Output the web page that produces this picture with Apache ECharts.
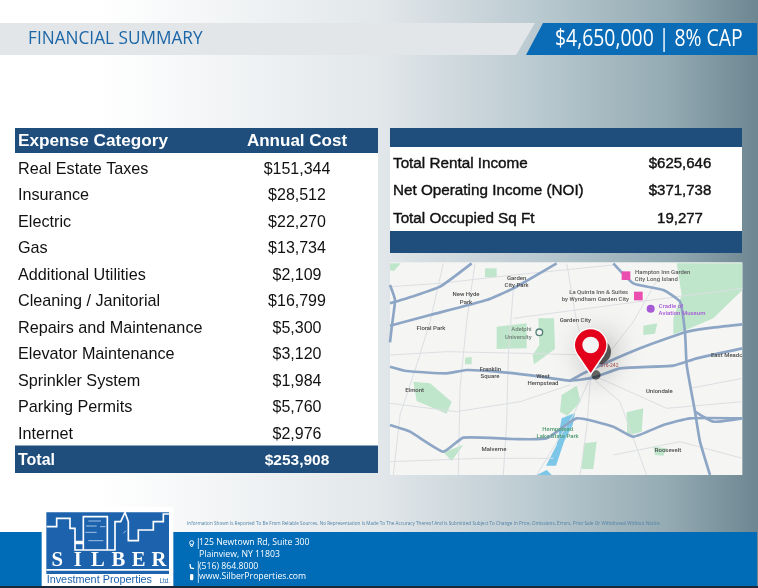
<!DOCTYPE html>
<html>
<head>
<meta charset="utf-8">
<title>Financial Summary</title>
<style>
html,body{margin:0;padding:0;background:#fff;}
#main{width:758px;height:588px;}
</style>
<script src="https://cdn.jsdelivr.net/npm/echarts@6/dist/echarts.min.js"></script>
</head>
<body>
<div id="main"></div>
<script>
// table data
var expenseHeader = 'Expense Category';
var costHeader = 'Annual Cost';
var expenseNames = ['Real Estate Taxes','Insurance','Electric','Gas','Additional Utilities','Cleaning / Janitorial','Repairs and Maintenance','Elevator Maintenance','Sprinkler System','Parking Permits','Internet','Total'];
var expenseCosts = [151344,28512,22270,13734,2109,16799,5300,3120,1984,5760,2976,253908];
var incomeNames = ['Total Rental Income','Net Operating Income (NOI)','Total Occupied Sq Ft'];
var incomeValues = ['$625,646','$371,738','19,277'];

var titleText = 'FINANCIAL SUMMARY';
var priceText = '$4,650,000 | 8% CAP';
var disclaimer = 'Information Shown Is Reported To Be From Reliable Sources. No Representation Is Made To The Accuracy Thereof And Is Submitted Subject To Change In Price, Omissions, Errors, Prior Sale Or Withdrawal Without Notice.';
var contactLines = ['125 Newtown Rd, Suite 300','Plainview, NY 11803','(516) 864.8000','www.SilberProperties.com'];

// map drawing, in 3x units
var mapParks = [
  [[350,215],[440,205],[440,280],[350,282]],
  [[475,190],[522,190],[525,282],[462,328],[458,300],[478,270]],
  [[890,25],[1087,25],[1087,105],[1000,190],[925,222],[880,238],[880,190],[905,120]],
  [[100,380],[150,385],[215,440],[200,476],[110,438]],
  [[545,420],[590,392],[602,440],[562,482],[540,470]],
  [[740,472],[790,460],[785,530],[742,542]],
  [[612,565],[650,560],[640,642],[604,642]],
  [[190,592],[250,570],[215,618]],
  [[315,40],[350,40],[350,66],[315,66]],
  [[790,212],[832,205],[825,236],[790,240]],
  [[255,308],[275,306],[275,328],[255,328]],
  [[30,25],[62,25],[42,48],[30,46]],
  [[820,575],[860,580],[850,602],[825,600]]
];
var mapWater = [
  [[498,632],[530,570],[545,490],[585,474],[578,510],[552,560],[528,632]],
  [[470,660],[500,645],[515,660]]
];
var mapMinorRoads = [
  [[30,95],[180,85],[400,60],[700,30]],
  [[30,300],[200,290],[430,295],[620,300]],
  [[190,25],[150,200],[110,330],[60,480],[40,660]],
  [[285,25],[260,200],[240,400],[235,660]],
  [[400,100],[385,300],[380,500],[370,660]],
  [[560,25],[590,200],[632,355]],
  [[400,190],[700,150],[1087,100]],
  [[632,365],[580,480],[470,660]],
  [[632,365],[620,520],[600,660]],
  [[632,365],[720,440],[800,660]],
  [[660,370],[860,460],[1087,440]],
  [[632,365],[760,200],[840,60]],
  [[30,445],[230,470],[420,440],[570,390]],
  [[700,600],[900,560],[1087,610]],
  [[30,620],[300,610],[520,610]],
  [[930,400],[1087,370]]
];
var mapMajorRoads = [
  [[30,145],[95,125],[180,95],[275,25]],
  [[30,212],[150,180],[320,135],[400,100],[530,25]],
  [[30,90],[45,135],[36,210],[30,262]],
  [[30,335],[80,348],[200,355],[260,345],[350,350],[460,362],[570,377],[640,368],[720,340],[880,332],[950,310],[1087,280]],
  [[570,377],[620,350],[780,280],[915,232],[980,220],[1087,208]],
  [[700,25],[760,85],[850,105],[900,140],[915,232],[920,330],[945,470],[960,560],[990,660]],
  [[30,510],[90,530],[190,590],[250,548],[400,552],[500,550],[590,490],[700,515],[760,545],[850,510],[930,490],[1087,490]],
  [[945,470],[1000,500],[1087,490]]
];
var mapLabels = [
  ['Garden',410,70,'#4a4a4a'],['City Park',410,91,'#4a4a4a'],['New Hyde',258,119,'#4a4a4a'],['Park',258,141,'#4a4a4a'],
  ['Floral Park',153,221,'#4a4a4a'],['Garden City',586,197,'#4a4a4a'],['Adelphi',424,224,'#6f7f78'],['University',415,247,'#6f7f78'],
  ['Franklin',331,343,'#4a4a4a'],['Square',330,365,'#4a4a4a'],['West',489,364,'#4a4a4a'],['Hempstead',489,386,'#4a4a4a'],
  ['Elmont',104,405,'#4a4a4a'],['Uniondale',838,408,'#4a4a4a'],['East Meadc',1040,300,'#4a4a4a'],['Malverne',342,583,'#4a4a4a'],
  ['Roosevelt',864,586,'#4a4a4a'],['Hempstead',533,523,'#4f9b72'],['Lake State Park',533,544,'#4f9b72'],
  ['Hampton Inn Garden',848,51,'#5a5a5a'],['City Long Island',829,73,'#5a5a5a'],['La Quinta Inn & Suites',656,111,'#5a5a5a'],
  ['by Wyndham Garden City',646,134,'#5a5a5a'],['Cradle of',873,154,'#a65ad6'],['Aviation Museum',906,175,'#a65ad6']
];
var skyline = [[140,80],[170,80],[170,55],[210,55],[210,85],[225,85],[225,125],[250,125],[250,50],[322,50],[322,150],[250,150],[250,130],[225,130],[225,150],[345,150],[345,65],[362,65],[375,37],[385,65],[385,122],[415,122],[415,90],[460,90],[460,65],[490,65],[490,42],[507,42]];
var skylineMarks = [[[265,63],[303,63]],[[258,78],[290,78]],[[300,80],[316,80]],[[256,97],[290,97]],[[265,122],[310,122]],[[370,100],[378,92]]];
var silberLetters = ['S','I','L','B','E','R'];

function rect(x,y,w,h,fill){
  return {type:'rect',shape:{x:x,y:y,width:w,height:h},style:{fill:fill},silent:true};
}
function label(x,y,text,size,color,extra){
  var o = {type:'text',x:x,y:y,silent:true,style:{text:text,fontFamily:'"Open Sans"',fontSize:size,fill:color,textAlign:'left',textVerticalAlign:'middle'}};
  for(var k in extra){
    if(k=='scaleX'){o.scaleX=extra[k];}
    else o.style[k]=extra[k];
  }
  return o;
}

// page background and bands
var pageGraphics = [
  {type:'rect',shape:{x:0,y:0,width:758,height:588},silent:true,style:{fill:new echarts.graphic.LinearGradient(0,0,1,0,[
    {offset:0,color:'#ffffff'},{offset:0.13,color:'#ffffff'},{offset:0.5,color:'#e2e7ea'},{offset:0.7,color:'#bccbd2'},{offset:0.88,color:'#94abb3'},{offset:1,color:'#6d8691'}])}},
  {type:'polygon',shape:{points:[[0,23],[535,23],[516,55],[0,55]]},style:{fill:'#e3e6e8'},silent:true},
  {type:'polygon',shape:{points:[[543,23],[757,23],[757,55],[526,55]]},style:{fill:'#0a6bb6'},silent:true},
  label(28,39,titleText,19,'#1c66a8',{scaleX:0.906}),
  label(555,39,priceText,23,'#ffffff',{scaleX:0.843}),
  // left table
  rect(15,128,363,345,'#ffffff'),
  rect(15,128,363,25,'#1f4e7d'),
  rect(15,445.5,363,27.5,'#1f4e7d'),
  // right table
  rect(390,128,352,125,'#ffffff'),
  rect(390,128,352,19,'#1f4e7d'),
  rect(390,231,352,22,'#1f4e7d'),
  // footer
  rect(0,532,757,54,'#006bb7'),
  rect(0,586,758,2,'#1b2a3a'),
  label(187,524,disclaimer,5.2,'#4f81a6',{scaleX:0.896})
];

// map
var mapChildren = [{type:'rect',shape:{x:30,y:22,width:1057,height:638},style:{fill:'#f5f5f3'},silent:true}];
mapParks.forEach(function(p){
  mapChildren.push({type:'polygon',shape:{points:p},style:{fill:'#bfe6cb'},silent:true});
});
mapWater.forEach(function(p){
  mapChildren.push({type:'polygon',shape:{points:p},style:{fill:'#7cc7e8'},silent:true});
});
mapMinorRoads.forEach(function(p){
  mapChildren.push({type:'polyline',shape:{points:p},style:{fill:null,stroke:'#dcdfe3',lineWidth:3},silent:true});
});
mapMajorRoads.forEach(function(p){
  mapChildren.push({type:'polyline',shape:{points:p,smooth:0.15},style:{fill:null,stroke:'#8ea6c6',lineWidth:8,lineJoin:'round'},silent:true});
});
mapLabels.forEach(function(l){
  mapChildren.push({type:'text',x:l[1],y:l[2],silent:true,style:{text:l[0],fontFamily:'Roboto',fontWeight:500,fontSize:18,fill:l[3],textAlign:'center',textVerticalAlign:'middle'}});
});
mapChildren.push(
  {type:'rect',shape:{x:725,y:49,width:26,height:26},style:{fill:'#ea4fb0'},silent:true},
  {type:'rect',shape:{x:762,y:110,width:26,height:26},style:{fill:'#ea4fb0'},silent:true},
  {type:'circle',shape:{cx:812,cy:161,r:12},style:{fill:'#a65ad6'},silent:true},
  {type:'circle',shape:{cx:478,cy:232,r:10},style:{fill:'#f5f5f3',stroke:'#55807a',lineWidth:4},silent:true},
  {type:'text',x:688,y:333,silent:true,style:{text:'516-242',fontFamily:'Roboto',fontSize:15,fill:'#b04a4a',textAlign:'center',textVerticalAlign:'middle'}},
  // pin shadow
  {type:'circle',shape:{cx:655,cy:290,r:38},style:{fill:'rgba(0,0,0,0.6)',shadowBlur:30,shadowColor:'rgba(0,0,0,0.85)'},silent:true},
  {type:'circle',shape:{cx:648,cy:360,r:14},style:{fill:'rgba(0,0,0,0.55)',shadowBlur:22,shadowColor:'rgba(0,0,0,0.75)'},silent:true},
  // pin outline then red body
  {type:'circle',shape:{cx:632,cy:270,r:51},style:{fill:'#ffffff'},silent:true},
  {type:'polygon',shape:{points:[[632,362],[590,300],[674,300]]},style:{fill:'#ffffff'},silent:true},
  {type:'circle',shape:{cx:632,cy:270,r:47},style:{fill:'#e2001a'},silent:true},
  {type:'polygon',shape:{points:[[632,354],[593,296],[671,296]]},style:{fill:'#e2001a'},silent:true},
  {type:'circle',shape:{cx:632,cy:270,r:25},style:{fill:'#f4f4f4'},silent:true}
);
var mapGroup = {type:'group',x:380,y:255,scaleX:1/3,scaleY:1/3,children:mapChildren};

// logo, also in 3x units
var logoChildren = [
  {type:'rect',shape:{x:125,y:20,width:395,height:238},style:{fill:'#ffffff'},silent:true},
  {type:'rect',shape:{x:139,y:37,width:368,height:185},style:{fill:'#1d62ad'},silent:true},
  {type:'polyline',shape:{points:skyline},style:{fill:null,stroke:'#ffffff',lineWidth:5},silent:true},
  {type:'rect',shape:{x:139,y:207,width:368,height:5},style:{fill:'#ffffff'},silent:true}
];
skylineMarks.forEach(function(p){
  logoChildren.push({type:'polyline',shape:{points:p},style:{fill:null,stroke:'#9fc2e6',lineWidth:3},silent:true});
});
silberLetters.forEach(function(ch,i){
  logoChildren.push({type:'text',x:172+i*61,y:183,silent:true,style:{text:ch,fontFamily:'"Liberation Serif"',fontSize:62,fontWeight:'bold',fill:'#ffffff',textAlign:'center',textVerticalAlign:'middle'}});
});
logoChildren.push(
  {type:'text',x:140,y:240,silent:true,style:{text:'Investment Properties',fontFamily:'"Liberation Sans"',fontSize:32.5,fill:'#1d62ad',textAlign:'left',textVerticalAlign:'middle'}},
  {type:'text',x:510,y:243,silent:true,style:{text:'Ltd.',fontFamily:'"Liberation Sans"',fontSize:19,fill:'#1d62ad',textAlign:'right',textVerticalAlign:'middle'}}
);
// contact icons
logoChildren.push(
  {type:'circle',shape:{cx:575,cy:128,r:6},style:{fill:null,stroke:'#ffffff',lineWidth:3},silent:true},
  {type:'polyline',shape:{points:[[570,134],[575,141],[580,134]]},style:{fill:null,stroke:'#ffffff',lineWidth:3},silent:true},
  {type:'polyline',shape:{points:[[570,192],[572,204],[582,206]]},style:{fill:null,stroke:'#ffffff',lineWidth:4},silent:true},
  {type:'rect',shape:{x:570,y:222,width:10,height:19,r:4},style:{fill:'#ffffff'},silent:true}
);
var logoGroup = {type:'group',x:0,y:500,scaleX:1/3,scaleY:1/3,children:logoChildren};

var contactY = [543,555,566.5,577];
var footerText = contactLines.map(function(t,i){
  return label(199,contactY[i],t,8.7,'#ffffff',{});
});
['|','|','|'].forEach(function(t,i){
  footerText.push(label(195.5,[543,566.5,577][i],t,10,'#ffffff',{}));
});

// each table is a grid: rows on a category axis, one value column
function tableText(getText,size,stroke){
  return function(params,api){
    var i = params.dataIndex;
    var p = api.coord([0,i]);
    var last = params.seriesIndex==0 && i==expenseNames.length-1;
    return {type:'text',x:p[0],y:p[1],style:{
      text:getText(i),fontFamily:'"Liberation Sans"',fontSize:last?15.5:size,
      fontWeight:last?'bold':'normal',fill:last?'#ffffff':'#111111',
      stroke:stroke?'#111111':null,lineWidth:stroke?0.4:0,
      textAlign:'center',textVerticalAlign:'middle'
    }};
  };
}

var option = {
  animation:false,
  graphic:{elements:[{type:'group',z:-10,children:pageGraphics.concat([mapGroup,logoGroup]).concat(footerText)}]},
  grid:[
    {left:223,width:148,top:156,height:318},
    {left:620,width:120,top:150.2,height:82}
  ],
  xAxis:[
    {gridIndex:0,type:'category',position:'top',data:[costHeader],axisLine:{show:false},axisTick:{show:false},splitLine:{show:false},
      axisLabel:{margin:6,color:'#ffffff',fontFamily:'"Liberation Sans"',fontWeight:'bold',fontSize:17}},
    {gridIndex:1,type:'category',data:[''],axisLine:{show:false},axisTick:{show:false},splitLine:{show:false},axisLabel:{show:false}}
  ],
  yAxis:[
    {gridIndex:0,type:'category',inverse:true,data:expenseNames,axisLine:{show:false},axisTick:{show:false},splitLine:{show:false},
      name:expenseHeader,nameLocation:'start',nameGap:6,
      nameTextStyle:{align:'left',padding:[0,0,0,-205],color:'#ffffff',fontFamily:'"Liberation Sans"',fontWeight:'bold',fontSize:17.2},
      axisLabel:{align:'left',margin:205,color:'#111111',fontFamily:'"Liberation Sans"',fontSize:16.2,
        formatter:function(v){return v=='Total'?'{t|'+v+'}':v;},
        rich:{t:{color:'#ffffff',fontWeight:'bold',fontFamily:'"Liberation Sans"',fontSize:16}}}},
    {gridIndex:1,type:'category',inverse:true,data:incomeNames,axisLine:{show:false},axisTick:{show:false},splitLine:{show:false},
      axisLabel:{align:'left',margin:227,color:'#111111',fontFamily:'"Liberation Sans"',fontSize:15.25,textBorderColor:'#111111',textBorderWidth:0.4}}
  ],
  series:[
    {type:'custom',xAxisIndex:0,yAxisIndex:0,coordinateSystem:'cartesian2d',silent:true,
      data:expenseCosts.map(function(c,i){return [0,i,c];}),
      renderItem:tableText(function(i){return '$'+expenseCosts[i].toLocaleString('en-US');},16,false)},
    {type:'custom',xAxisIndex:1,yAxisIndex:1,coordinateSystem:'cartesian2d',silent:true,
      data:incomeValues.map(function(c,i){return [0,i];}),
      renderItem:tableText(function(i){return incomeValues[i];},15,true)}
  ]
};
var chart = echarts.init(document.getElementById('main'));
chart.setOption(option);
</script>
</body>
</html>
